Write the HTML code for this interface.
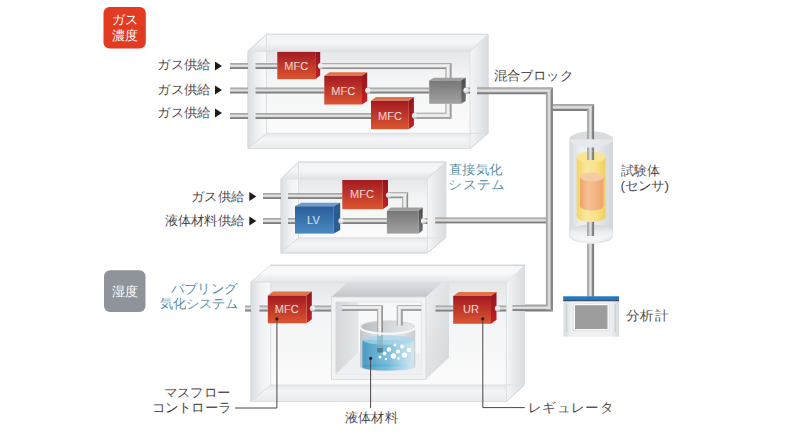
<!DOCTYPE html>
<html><head><meta charset="utf-8"><style>
html,body{margin:0;padding:0;background:#fff;width:800px;height:439px;overflow:hidden}
svg{display:block;font-family:"Liberation Sans",sans-serif}
</style></head><body>
<svg width="800" height="439" viewBox="0 0 800 439">
<defs><linearGradient id="pipeH" x1="0" y1="0" x2="0" y2="1"><stop offset="0" stop-color="#a2a2a2"/><stop offset="0.22" stop-color="#b0b0b0"/><stop offset="0.42" stop-color="#e6e6e6"/><stop offset="0.6" stop-color="#d4d4d4"/><stop offset="0.78" stop-color="#858585"/><stop offset="1" stop-color="#787878"/></linearGradient><linearGradient id="pipeV" x1="0" y1="0" x2="1" y2="0"><stop offset="0" stop-color="#a2a2a2"/><stop offset="0.22" stop-color="#b0b0b0"/><stop offset="0.42" stop-color="#e6e6e6"/><stop offset="0.6" stop-color="#d4d4d4"/><stop offset="0.78" stop-color="#858585"/><stop offset="1" stop-color="#787878"/></linearGradient><linearGradient id="hollowH" x1="0" y1="0" x2="0" y2="1"><stop offset="0" stop-color="#8e8e8e"/><stop offset="0.15" stop-color="#c4c4c4"/><stop offset="0.32" stop-color="#f2f2f2"/><stop offset="0.6" stop-color="#ededed"/><stop offset="0.8" stop-color="#a3a3a3"/><stop offset="1" stop-color="#7e7e7e"/></linearGradient><linearGradient id="hollowV" x1="0" y1="0" x2="1" y2="0"><stop offset="0" stop-color="#8e8e8e"/><stop offset="0.15" stop-color="#c4c4c4"/><stop offset="0.32" stop-color="#f2f2f2"/><stop offset="0.6" stop-color="#ededed"/><stop offset="0.8" stop-color="#a3a3a3"/><stop offset="1" stop-color="#7e7e7e"/></linearGradient><linearGradient id="capG" x1="0" y1="0" x2="0" y2="1"><stop offset="0" stop-color="#e6e8e9"/><stop offset="0.5" stop-color="#f0f1f2"/><stop offset="1" stop-color="#b9bcbe"/></linearGradient><linearGradient id="redF" x1="0" y1="0" x2="0" y2="1"><stop offset="0" stop-color="#a31a22"/><stop offset="1" stop-color="#dc5530"/></linearGradient><linearGradient id="redS" x1="0" y1="0" x2="0" y2="1"><stop offset="0" stop-color="#8f161c"/><stop offset="1" stop-color="#c62023"/></linearGradient><linearGradient id="grayF" x1="0" y1="0" x2="0" y2="1"><stop offset="0" stop-color="#777777"/><stop offset="1" stop-color="#a2a2a2"/></linearGradient><linearGradient id="grayS" x1="0" y1="0" x2="0" y2="1"><stop offset="0" stop-color="#4a4a4a"/><stop offset="1" stop-color="#707070"/></linearGradient><linearGradient id="blueF" x1="0" y1="0" x2="0" y2="1"><stop offset="0" stop-color="#285d98"/><stop offset="1" stop-color="#4b89c2"/></linearGradient><linearGradient id="bandL" x1="0" y1="0" x2="1" y2="0"><stop offset="0" stop-color="#dadee2"/><stop offset="0.5" stop-color="#eef0f2"/><stop offset="1" stop-color="#f8f9f9"/></linearGradient><linearGradient id="bandT" x1="0" y1="0" x2="0" y2="1"><stop offset="0" stop-color="#f2f3f4"/><stop offset="0.5" stop-color="#f5f6f7"/><stop offset="1" stop-color="#e0e3e6"/></linearGradient><linearGradient id="bandR" x1="0" y1="0" x2="1" y2="0"><stop offset="0" stop-color="#f4f5f6"/><stop offset="0.5" stop-color="#e6e9eb"/><stop offset="1" stop-color="#d9dde0"/></linearGradient><linearGradient id="bandB" x1="0" y1="0" x2="0" y2="1"><stop offset="0" stop-color="#e4e7e9"/><stop offset="0.4" stop-color="#f4f5f6"/><stop offset="1" stop-color="#e8eaec"/></linearGradient><linearGradient id="bandT2" x1="0" y1="0" x2="0" y2="1"><stop offset="0" stop-color="#f4f5f6"/><stop offset="0.45" stop-color="#fbfbfc"/><stop offset="0.7" stop-color="#eef0f1"/><stop offset="1" stop-color="#e6e9eb"/></linearGradient><linearGradient id="inter" x1="0" y1="0" x2="0" y2="1"><stop offset="0" stop-color="#e4e6e8"/><stop offset="0.3" stop-color="#f3f4f5"/><stop offset="1" stop-color="#fbfbfb"/></linearGradient><linearGradient id="chTop" x1="0" y1="0" x2="0" y2="1"><stop offset="0" stop-color="#dfe3e6"/><stop offset="0.5" stop-color="#d5d9dd"/><stop offset="1" stop-color="#c0c5c9"/></linearGradient><linearGradient id="chRight" x1="0" y1="0" x2="1" y2="1"><stop offset="0" stop-color="#eef0f2"/><stop offset="1" stop-color="#d2d6da"/></linearGradient><linearGradient id="chLeft" x1="0" y1="0" x2="1" y2="0"><stop offset="0" stop-color="#d2d6da"/><stop offset="1" stop-color="#e6e9eb"/></linearGradient><linearGradient id="glassC" x1="0" y1="0" x2="1" y2="0"><stop offset="0" stop-color="#d6d9dc"/><stop offset="0.25" stop-color="#eceef0"/><stop offset="0.6" stop-color="#e9ebed"/><stop offset="1" stop-color="#d3d6d9"/></linearGradient><linearGradient id="beakC" x1="0" y1="0" x2="1" y2="0"><stop offset="0" stop-color="#c4c8cc"/><stop offset="0.3" stop-color="#dcdfe2"/><stop offset="0.7" stop-color="#e7e9eb"/><stop offset="1" stop-color="#c9cdd0"/></linearGradient><linearGradient id="beakIn" x1="0" y1="0" x2="1" y2="0"><stop offset="0" stop-color="#b8bcc0"/><stop offset="0.6" stop-color="#d8dbde"/><stop offset="1" stop-color="#e6e8ea"/></linearGradient><linearGradient id="liq" x1="0" y1="0" x2="1" y2="0"><stop offset="0" stop-color="#3593c0"/><stop offset="0.5" stop-color="#6ab8da"/><stop offset="1" stop-color="#d3ebf5"/></linearGradient><linearGradient id="yel" x1="0" y1="0" x2="1" y2="0"><stop offset="0" stop-color="#f4d45e"/><stop offset="0.35" stop-color="#fae8a2"/><stop offset="0.7" stop-color="#f8df84"/><stop offset="1" stop-color="#f1cf58"/></linearGradient><linearGradient id="baseG" x1="0" y1="0" x2="0" y2="1"><stop offset="0" stop-color="#d3d6d9"/><stop offset="0.5" stop-color="#eceef0"/><stop offset="1" stop-color="#f7f8f8"/></linearGradient><linearGradient id="org" x1="0" y1="0" x2="1" y2="0"><stop offset="0" stop-color="#eea36a"/><stop offset="0.35" stop-color="#f6c293"/><stop offset="1" stop-color="#eea46c"/></linearGradient><linearGradient id="anaB" x1="0" y1="0" x2="1" y2="0"><stop offset="0" stop-color="#d9dcdf"/><stop offset="0.15" stop-color="#eef0f1"/><stop offset="0.85" stop-color="#eef0f1"/><stop offset="1" stop-color="#d5d8db"/></linearGradient></defs>
<rect width="800" height="439" fill="#fff"/>
<rect x="103.5" y="7" width="42.3" height="41.6" rx="6" fill="#e33b22"/>
<rect x="104" y="270.2" width="41.5" height="41.7" rx="6" fill="#8f949a"/>
<rect x="266.5" y="51.3" width="203.5" height="82.00000000000001" fill="url(#inter)"/>
<polygon points="248.00,51.30 266.50,51.30 266.50,133.30 248.00,148.50" fill="url(#bandL)"/>
<polygon points="248.00,51.30 266.50,34.30 488.00,34.30 470.00,51.30" fill="url(#bandT)"/>
<polygon points="470.00,51.30 488.00,34.30 488.00,133.30 470.00,148.50" fill="url(#bandR)"/>
<polygon points="266.50,133.30 470.00,133.30 470.00,148.50 248.00,148.50" fill="url(#bandB)"/>
<polygon points="248.00,51.30 266.50,34.30 488.00,34.30 488.00,133.30 470.00,148.50 248.00,148.50" stroke="#cdd1d5" stroke-width="1" fill="none"/>
<rect x="248" y="51.3" width="222" height="97.2" stroke="#dde0e3" stroke-width="1" fill="none"/>
<rect x="266.5" y="34.3" width="221.5" height="99.00000000000001" stroke="#dde0e3" stroke-width="1" fill="none"/>
<line x1="470" y1="51.3" x2="488" y2="34.3" stroke="#d8dbde"/>
<line x1="266.5" y1="133.3" x2="248" y2="148.5" stroke="#d8dbde"/>
<rect x="230" y="63.0" width="18" height="6" fill="url(#pipeH)"/>
<rect x="230" y="87.5" width="18" height="6" fill="url(#pipeH)"/>
<rect x="230" y="113.0" width="18" height="6" fill="url(#pipeH)"/>
<rect x="255.5" y="63.0" width="21.80000000000001" height="6" fill="url(#pipeH)"/>
<rect x="255.5" y="87.5" width="68.80000000000001" height="6" fill="url(#pipeH)"/>
<rect x="255.5" y="113.0" width="115.5" height="6" fill="url(#pipeH)"/>
<polygon points="316.00,69.00 445.50,69.00 451.50,63.00 316.00,63.00" fill="url(#hollowH)"/>
<polygon points="445.50,69.00 445.50,80.50 451.50,80.50 451.50,63.00" fill="url(#hollowV)"/>
<polygon points="410.00,118.80 451.50,118.80 445.50,112.80 410.00,112.80" fill="url(#hollowH)"/>
<polygon points="451.50,118.80 451.50,103.80 445.50,103.80 445.50,112.80" fill="url(#hollowV)"/>
<rect x="365" y="87.5" width="64.19999999999999" height="6" fill="url(#pipeH)"/>
<rect x="463" y="87.5" width="7" height="6" fill="url(#pipeH)"/>
<polygon points="477.00,94.30 545.90,94.30 552.90,87.30 477.00,87.30" fill="url(#pipeH)"/>
<polygon points="545.90,94.30 545.90,304.50 552.90,311.50 552.90,87.30" fill="url(#pipeV)"/>
<polygon points="545.90,304.50 512.50,304.50 512.50,311.50 552.90,311.50" fill="url(#pipeH)"/>
<polygon points="552.90,111.00 587.10,111.00 594.10,104.00 552.90,104.00" fill="url(#pipeH)"/>
<polygon points="587.10,111.00 587.10,132.00 594.10,132.00 594.10,104.00" fill="url(#pipeV)"/>
<polygon points="315.20,51.90 320.20,51.90 320.20,75.50 315.20,79.20" fill="url(#redS)"/>
<rect x="277.3" y="51.9" width="37.89999999999998" height="27.300000000000004" fill="url(#redF)"/>
<polygon points="324.30,75.80 329.50,72.20 367.20,72.20 362.00,75.80" fill="#e0734a"/>
<polygon points="362.00,75.80 367.20,72.20 367.20,100.90 362.00,104.50" fill="url(#redS)"/>
<rect x="324.3" y="75.8" width="37.69999999999999" height="28.700000000000003" fill="url(#redF)"/>
<polygon points="371.00,100.80 376.10,97.10 413.90,97.10 408.80,100.80" fill="#e0734a"/>
<polygon points="408.80,100.80 413.90,97.10 413.90,125.50 408.80,129.20" fill="url(#redS)"/>
<rect x="371" y="100.8" width="37.80000000000001" height="28.39999999999999" fill="url(#redF)"/>
<polygon points="429.20,80.50 433.80,77.80 465.70,77.80 461.10,80.50" fill="#a39e9e"/>
<polygon points="461.10,80.50 465.70,77.80 465.70,101.10 461.10,103.80" fill="url(#grayS)"/>
<rect x="429.2" y="80.5" width="31.900000000000034" height="23.299999999999997" fill="url(#grayF)"/>
<ellipse cx="320.5" cy="66" rx="2.6" ry="3.0" fill="url(#capG)"/>
<ellipse cx="367.8" cy="90.5" rx="2.6" ry="3.0" fill="url(#capG)"/>
<ellipse cx="414.5" cy="115.8" rx="2.6" ry="3.0" fill="url(#capG)"/>
<ellipse cx="466" cy="90.5" rx="2.6" ry="3.0" fill="url(#capG)"/>
<rect x="298.5" y="179" width="128.8" height="58.80000000000001" fill="url(#inter)"/>
<polygon points="281.00,179.00 298.50,179.00 298.50,237.80 281.00,253.00" fill="url(#bandL)"/>
<polygon points="281.00,179.00 298.50,162.10 445.70,162.10 427.30,179.00" fill="url(#bandT)"/>
<polygon points="427.30,179.00 445.70,162.10 445.70,237.80 427.30,253.00" fill="url(#bandR)"/>
<polygon points="298.50,237.80 427.30,237.80 427.30,253.00 281.00,253.00" fill="url(#bandB)"/>
<polygon points="281.00,179.00 298.50,162.10 445.70,162.10 445.70,237.80 427.30,253.00 281.00,253.00" stroke="#cdd1d5" stroke-width="1" fill="none"/>
<rect x="281" y="179" width="146.3" height="74" stroke="#dde0e3" stroke-width="1" fill="none"/>
<rect x="298.5" y="162.1" width="147.2" height="75.70000000000002" stroke="#dde0e3" stroke-width="1" fill="none"/>
<line x1="427.3" y1="179" x2="445.7" y2="162.1" stroke="#d8dbde"/>
<line x1="298.5" y1="237.8" x2="281" y2="253" stroke="#d8dbde"/>
<rect x="263" y="193.0" width="18" height="6" fill="url(#pipeH)"/>
<rect x="263" y="218.0" width="18" height="6" fill="url(#pipeH)"/>
<rect x="288" y="193.0" width="54.30000000000001" height="6" fill="url(#pipeH)"/>
<rect x="288" y="218.0" width="7" height="6" fill="url(#pipeH)"/>
<polygon points="385.00,198.20 402.10,198.20 408.10,192.20 385.00,192.20" fill="url(#hollowH)"/>
<polygon points="402.10,198.20 402.10,209.00 408.10,209.00 408.10,192.20" fill="url(#hollowV)"/>
<rect x="338" y="218.0" width="48.89999999999998" height="6" fill="url(#pipeH)"/>
<rect x="420" y="218.0" width="7.300000000000011" height="6" fill="url(#pipeH)"/>
<rect x="435.2" y="217.4" width="110.80000000000001" height="6" fill="url(#pipeH)"/>
<polygon points="382.80,180.00 388.00,180.00 388.00,205.60 382.80,209.20" fill="url(#redS)"/>
<rect x="342.3" y="180" width="40.5" height="29.19999999999999" fill="url(#redF)"/>
<polygon points="295.00,206.30 301.40,202.80 340.20,202.80 333.80,206.30" fill="#6b9bd0"/>
<polygon points="333.80,206.30 340.20,202.80 340.20,230.10 333.80,233.60" fill="#2b5c94"/>
<rect x="295" y="206.3" width="38.80000000000001" height="27.299999999999983" fill="url(#blueF)"/>
<polygon points="386.90,210.80 390.80,207.40 422.70,207.40 418.80,210.80" fill="#a39e9e"/>
<polygon points="418.80,210.80 422.70,207.40 422.70,230.20 418.80,233.60" fill="url(#grayS)"/>
<rect x="386.9" y="210.8" width="31.900000000000034" height="22.799999999999983" fill="url(#grayF)"/>
<ellipse cx="388.5" cy="195.2" rx="2.6" ry="2.75" fill="url(#capG)"/>
<ellipse cx="341" cy="221" rx="2.6" ry="3.0" fill="url(#capG)"/>
<ellipse cx="423.5" cy="221" rx="2.6" ry="3.0" fill="url(#capG)"/>
<rect x="270.7" y="282" width="235.60000000000002" height="103" fill="url(#inter)"/>
<polygon points="251.00,282.00 270.70,282.00 270.70,385.00 251.00,401.50" fill="url(#bandL)"/>
<polygon points="251.00,282.00 270.70,265.30 524.50,265.30 506.30,282.00" fill="url(#bandT)"/>
<polygon points="506.30,282.00 524.50,265.30 524.50,385.00 506.30,401.50" fill="url(#bandR)"/>
<polygon points="270.70,385.00 506.30,385.00 506.30,401.50 251.00,401.50" fill="url(#bandB)"/>
<polygon points="251.00,282.00 270.70,265.30 524.50,265.30 524.50,385.00 506.30,401.50 251.00,401.50" stroke="#cdd1d5" stroke-width="1" fill="none"/>
<rect x="251" y="282" width="255.3" height="119.5" stroke="#dde0e3" stroke-width="1" fill="none"/>
<rect x="270.7" y="265.3" width="253.8" height="119.69999999999999" stroke="#dde0e3" stroke-width="1" fill="none"/>
<line x1="506.3" y1="282" x2="524.5" y2="265.3" stroke="#d8dbde"/>
<line x1="270.7" y1="385" x2="251" y2="401.5" stroke="#d8dbde"/>
<rect x="245" y="305.5" width="6" height="6" fill="url(#pipeH)"/>
<rect x="259.4" y="305.5" width="8.400000000000034" height="6" fill="url(#pipeH)"/>
<rect x="310" y="305.5" width="21" height="6" fill="url(#pipeH)"/>
<polygon points="331.40,297.00 354.40,276.50 449.00,276.50 426.00,297.00" fill="url(#chTop)"/>
<polygon points="426.00,297.00 449.00,276.50 449.00,357.40 426.00,379.30" fill="url(#chRight)"/>
<polygon points="251.00,282.00 270.70,265.30 524.50,265.30 506.30,282.00" fill="url(#bandT2)" opacity="0.85"/>
<line x1="270.7" y1="265.3" x2="524.5" y2="265.3" stroke="#cdd1d5"/>
<line x1="251" y1="282" x2="506.3" y2="282" stroke="#e0e3e6" opacity="0.7"/>
<rect x="331.4" y="297" width="94.6" height="82.3" fill="#f1f3f4" stroke="#d3d7da" stroke-width="0.8"/>
<rect x="335.8" y="302" width="85.5" height="72.4" fill="#f7f8f9" stroke="#dfe2e5" stroke-width="0.8"/>
<polygon points="335.80,302.00 358.50,302.00 358.50,352.80 335.80,374.40" fill="url(#chLeft)"/>
<polygon points="358.50,352.80 421.30,352.80 421.30,374.40 335.80,374.40" fill="#eef0f1"/>
<rect x="360" y="327" width="55.2" height="39.5" fill="url(#beakC)"/>
<ellipse cx="387.6" cy="366.5" rx="27.6" ry="4.8" fill="url(#beakC)"/>
<ellipse cx="387.6" cy="327" rx="27.6" ry="6.8" fill="#d3d6d9"/>
<ellipse cx="387.6" cy="327" rx="26" ry="5.6" fill="url(#beakIn)"/>
<polygon points="341.90,310.70 377.10,310.70 382.90,304.90 341.90,304.90" fill="url(#hollowH)"/>
<polygon points="377.10,310.70 377.10,352.00 382.90,352.00 382.90,304.90" fill="url(#hollowV)"/>
<polygon points="421.30,304.90 396.80,304.90 402.60,310.70 421.30,310.70" fill="url(#hollowH)"/>
<polygon points="396.80,304.90 396.80,325.50 402.60,325.50 402.60,310.70" fill="url(#hollowV)"/>
<rect x="362.4" y="340" width="51.4" height="27" fill="url(#liq)" opacity="0.85"/>
<ellipse cx="388.1" cy="367" rx="25.7" ry="3.6" fill="url(#liq)" opacity="0.85"/>
<ellipse cx="388.1" cy="340" rx="25.7" ry="4.8" fill="#a8d6ea" opacity="0.75"/>
<rect x="377.2" y="336" width="5.6" height="14" fill="#7fa9bb" opacity="0.55"/>
<rect x="377.2" y="348" width="5.6" height="4.5" fill="#4a7486" opacity="0.8"/>
<circle cx="380" cy="357" r="1.5" fill="#fff"/>
<circle cx="384.5" cy="353.5" r="2.0" fill="#fff"/>
<circle cx="389" cy="349.5" r="2.3" fill="#fff"/>
<circle cx="393.5" cy="356" r="2.8" fill="#fff"/>
<circle cx="398" cy="351.5" r="2.0" fill="#fff"/>
<circle cx="402" cy="346.5" r="2.0" fill="#fff"/>
<circle cx="404.5" cy="355" r="2.6" fill="#fff"/>
<circle cx="409" cy="350" r="2.2" fill="#fff"/>
<circle cx="386" cy="359" r="1.2" fill="#fff"/>
<circle cx="398.5" cy="358.5" r="1.3" fill="#fff"/>
<circle cx="395" cy="345" r="1.5" fill="#fff"/>
<path d="M360,327 A27.6,6.8 0 0 0 415.2,327" stroke="#f7f8f9" stroke-width="2" fill="none"/>
<rect x="435.5" y="305.5" width="17.69999999999999" height="6" fill="url(#pipeH)"/>
<rect x="495" y="305.5" width="11.300000000000011" height="6" fill="url(#pipeH)"/>
<rect x="512.5" y="305.0" width="34.0" height="6" fill="url(#pipeH)"/>
<polygon points="267.80,295.50 273.10,291.40 311.80,291.40 306.50,295.50" fill="#e0734a"/>
<polygon points="306.50,295.50 311.80,291.40 311.80,319.20 306.50,323.30" fill="url(#redS)"/>
<rect x="267.8" y="295.5" width="38.69999999999999" height="27.80000000000001" fill="url(#redF)"/>
<polygon points="453.20,296.00 458.70,291.90 496.50,291.90 491.00,296.00" fill="#e0734a"/>
<polygon points="491.00,296.00 496.50,291.90 496.50,319.70 491.00,323.80" fill="url(#redS)"/>
<rect x="453.2" y="296" width="37.80000000000001" height="27.80000000000001" fill="url(#redF)"/>
<ellipse cx="312.5" cy="308.5" rx="2.6" ry="3.0" fill="url(#capG)"/>
<ellipse cx="497.5" cy="308.5" rx="2.6" ry="3.0" fill="url(#capG)"/>
<ellipse cx="591.2" cy="139.5" rx="21.9" ry="8.2" fill="#d9dcdf"/>
<rect x="587.1" y="131" width="7" height="29" fill="url(#pipeV)"/>
<rect x="569.3" y="139.5" width="43.7" height="96" fill="url(#glassC)"/>
<ellipse cx="591.2" cy="235.5" rx="21.9" ry="8.2" fill="url(#glassC)"/>
<path d="M569.3,139.5 A21.9,8.2 0 0 0 613,139.5 Z" fill="#e6e8ea" opacity="0.9"/>
<rect x="587.1" y="147.5" width="7" height="12.5" fill="url(#pipeV)"/>
<ellipse cx="591.2" cy="232.5" rx="21.6" ry="8" fill="url(#baseG)"/>
<rect x="587.1" y="218" width="7" height="18" fill="url(#pipeV)"/>
<path d="M569.6,232.5 A21.6,8 0 0 0 612.8,232.5 L612.8,235.5 A21.9,8.2 0 0 1 569.6,235.5 Z" fill="#f2f3f4" opacity="0.9"/>
<rect x="576.7" y="157" width="28.8" height="59.5" fill="url(#yel)"/>
<ellipse cx="591.1" cy="216.5" rx="14.4" ry="5.5" fill="url(#yel)"/>
<ellipse cx="591.1" cy="157" rx="14.4" ry="5.5" fill="#f9e594"/>
<rect x="587.1" y="151.5" width="7" height="8.5" fill="url(#pipeV)"/>
<rect x="580" y="177" width="23.5" height="29" fill="url(#org)"/>
<ellipse cx="591.75" cy="206" rx="11.75" ry="4.5" fill="url(#org)"/>
<ellipse cx="591.75" cy="177" rx="11.75" ry="4.5" fill="#f7cba3"/>
<rect x="587.1" y="243.7" width="7" height="52.80000000000001" fill="url(#pipeV)"/>
<rect x="563.5" y="300.5" width="55.5" height="36.2" fill="url(#anaB)"/>
<rect x="563.2" y="296.3" width="55.8" height="4.2" fill="#1f78c0"/>
<rect x="563.2" y="300.2" width="55.8" height="1" fill="#2a3a4a"/>
<rect x="566.2" y="304" width="1" height="28" fill="#c9cdd0"/>
<rect x="614.8" y="304" width="1" height="28" fill="#c9cdd0"/>
<rect x="572.8" y="303.5" width="36.9" height="27.4" fill="#dfe2e4"/>
<rect x="573.8" y="304.2" width="34.9" height="25.7" fill="#ffffff"/>
<rect x="575" y="305.2" width="32.5" height="23.8" fill="#9d9d9d"/>
<polyline points="276.9,318.8 276.9,408 235,408" stroke="#4a4446" stroke-width="1" fill="none"/>
<polyline points="370.6,358.3 370.6,408.1" stroke="#4a4446" stroke-width="1" fill="none"/>
<polyline points="482.8,318.8 482.8,407.6 524.7,407.6" stroke="#4a4446" stroke-width="1" fill="none"/>
<circle cx="276.9" cy="318.8" r="1.6" fill="#222"/>
<circle cx="370.6" cy="358.3" r="1.6" fill="#222"/>
<circle cx="482.8" cy="318.8" r="1.6" fill="#222"/>
<text x="296.2" y="69.5" font-size="11" fill="#ffffff" text-anchor="middle" letter-spacing="0" stroke="#c43d2c" stroke-width="0.2">MFC</text>
<text x="343.2" y="94.5" font-size="11" fill="#ffffff" text-anchor="middle" letter-spacing="0" stroke="#c43d2c" stroke-width="0.2">MFC</text>
<text x="390" y="119.5" font-size="11" fill="#ffffff" text-anchor="middle" letter-spacing="0" stroke="#c43d2c" stroke-width="0.2">MFC</text>
<text x="362" y="197.5" font-size="11" fill="#ffffff" text-anchor="middle" letter-spacing="0" stroke="#c43d2c" stroke-width="0.2">MFC</text>
<text x="313.4" y="224" font-size="11" fill="#ffffff" text-anchor="middle" letter-spacing="0" stroke="#3d77b0" stroke-width="0.2">LV</text>
<text x="286.7" y="312.5" font-size="11" fill="#ffffff" text-anchor="middle" letter-spacing="0" stroke="#c43d2c" stroke-width="0.2">MFC</text>
<text x="471" y="313" font-size="11" fill="#ffffff" text-anchor="middle" letter-spacing="0" stroke="#c43d2c" stroke-width="0.2">UR</text>
<polygon points="215.00,61.40 222.00,66.00 215.00,70.60" fill="#1e1a1b"/>
<polygon points="215.00,85.40 222.00,90.00 215.00,94.60" fill="#1e1a1b"/>
<polygon points="215.00,108.40 222.00,113.00 215.00,117.60" fill="#1e1a1b"/>
<polygon points="249.30,191.90 256.30,196.50 249.30,201.10" fill="#1e1a1b"/>
<polygon points="249.30,216.40 256.30,221.00 249.30,225.60" fill="#1e1a1b"/>
<text transform="translate(210.00,69.30) scale(1.026,1)" font-size="13.25" fill="#2f2a2b" text-anchor="end" stroke="#fff" stroke-width="0.117">ガス供給</text>
<text transform="translate(210.00,93.60) scale(1.026,1)" font-size="13.25" fill="#2f2a2b" text-anchor="end" stroke="#fff" stroke-width="0.117">ガス供給</text>
<text transform="translate(210.00,117.30) scale(1.026,1)" font-size="13.25" fill="#2f2a2b" text-anchor="end" stroke="#fff" stroke-width="0.117">ガス供給</text>
<text transform="translate(243.90,200.90) scale(1.022,1)" font-size="13.25" fill="#2f2a2b" text-anchor="end" stroke="#fff" stroke-width="0.117">ガス供給</text>
<text transform="translate(243.90,225.10) scale(1.029,1)" font-size="13.25" fill="#2f2a2b" text-anchor="end" stroke="#fff" stroke-width="0.117">液体材料供給</text>
<text transform="translate(493.70,79.80) scale(1.030,1)" font-size="13.25" fill="#2f2a2b" text-anchor="start" stroke="#fff" stroke-width="0.117">混合ブロック</text>
<text transform="translate(449.30,173.60) scale(1.027,1)" font-size="13.25" fill="#3f7f99" text-anchor="start" stroke="#fff" stroke-width="0.117">直接気化</text>
<text transform="translate(448.30,188.50) scale(1.053,1)" font-size="13.25" fill="#3f7f99" text-anchor="start" stroke="#fff" stroke-width="0.114">システム</text>
<text transform="translate(620.50,175.00) scale(1.012,1)" font-size="13.25" fill="#2f2a2b" text-anchor="start" stroke="#fff" stroke-width="0.119">試験体</text>
<text transform="translate(620.50,189.50) scale(1.028,1)" font-size="13.25" fill="#2f2a2b" text-anchor="start" stroke="#fff" stroke-width="0.117">(センサ)</text>
<text transform="translate(625.90,320.25) scale(1.045,1)" font-size="13.25" fill="#2f2a2b" text-anchor="start" stroke="#fff" stroke-width="0.115">分析計</text>
<text transform="translate(237.00,293.10) scale(1.031,1)" font-size="13.25" fill="#3f7f99" text-anchor="end" stroke="#fff" stroke-width="0.116">バブリング</text>
<text transform="translate(238.30,307.80) scale(1.012,1)" font-size="13.25" fill="#3f7f99" text-anchor="end" stroke="#fff" stroke-width="0.119">気化システム</text>
<text transform="translate(230.00,397.00) scale(1.030,1)" font-size="13.25" fill="#2f2a2b" text-anchor="end" stroke="#fff" stroke-width="0.117">マスフロー</text>
<text transform="translate(231.00,412.30) scale(1.036,1)" font-size="13.25" fill="#2f2a2b" text-anchor="end" stroke="#fff" stroke-width="0.116">コントローラ</text>
<text transform="translate(345.25,422.05) scale(1.014,1)" font-size="13.25" fill="#2f2a2b" text-anchor="start" stroke="#fff" stroke-width="0.118">液体材料</text>
<text transform="translate(528.00,411.90) scale(1.047,1)" font-size="13.25" fill="#2f2a2b" text-anchor="start" stroke="#fff" stroke-width="0.115">レギュレータ</text>
<text x="125" y="23.5" font-size="12.5" fill="#fff" text-anchor="middle" letter-spacing="0" >ガス</text>
<text x="125" y="39.5" font-size="12.5" fill="#fff" text-anchor="middle" letter-spacing="0" >濃度</text>
<text x="124.8" y="296" font-size="12.5" fill="#fff" text-anchor="middle" letter-spacing="0" >湿度</text>
</svg></body></html>
